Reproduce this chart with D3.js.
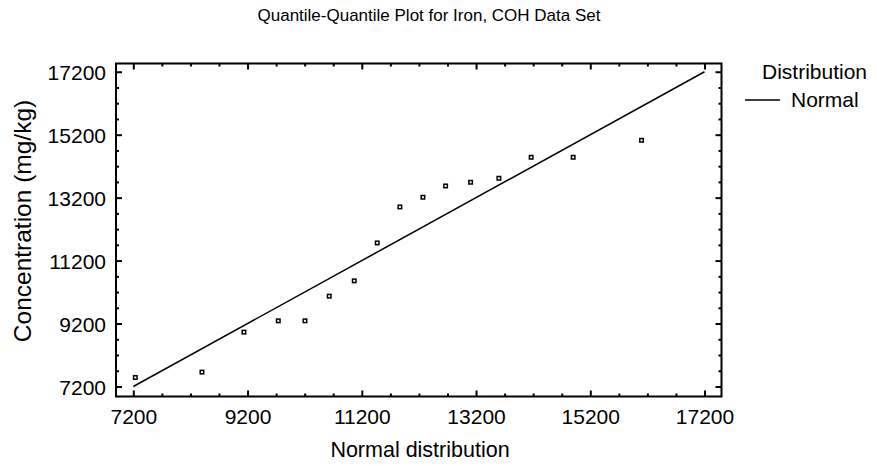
<!DOCTYPE html>
<html><head><meta charset="utf-8">
<script src="https://cdn.jsdelivr.net/npm/d3@7"></script>
<style>body{margin:0;background:#fff}svg{display:block}text{font-family:"Liberation Sans",Arial,sans-serif;fill:#000}</style>
</head><body>
<svg id="c" width="877" height="466"></svg>
<script>
const title = "Quantile-Quantile Plot for Iron, COH Data Set";
const xLabel = "Normal distribution";
const yLabel = "Concentration (mg/kg)";
const legendTitle = "Distribution";
const legendItem = "Normal";
const tickValues = [7200, 9200, 11200, 13200, 15200, 17200];
const normalQuantiles = [7235, 8402, 9137, 9738, 10205, 10630, 11068, 11470, 11867, 12270, 12667, 13105, 13600, 14165, 14900, 16097];
const concentrations = [7486, 7657, 8927, 9286, 9286, 10070, 10556, 11762, 12905, 13213, 13571, 13689, 13816, 14483, 14483, 15022];
const refLine = [7200, 17200];

const svg = d3.select("#c");
const L = 116, R = 721.5, T = 63.5, B = 396.5;
const x = d3.scaleLinear().domain([6897, 17497]).range([L, R]);
const y = d3.scaleLinear().domain([6882, 17462]).range([B, T]);
const minor = d3.range(6700, 17800, 500).filter(v => !tickValues.includes(v));

function ax(gen, tr, ticks, len, labels) {
  const g = svg.append("g").attr("transform", tr)
    .call(gen.tickValues(ticks).tickSizeInner(len).tickSizeOuter(0).tickFormat(labels ? d3.format("d") : ""));
  g.select(".domain").remove();
  g.selectAll("line").attr("stroke", "#000").attr("stroke-width", 2);
  g.selectAll("text").style("font-size", "21px").style("font-family", "Liberation Sans, Arial, sans-serif");
  return g;
}
const xMin = minor.filter(v => x(v) > L && x(v) < R);
const yMin = minor.filter(v => y(v) > T && y(v) < B);
// bottom
let gb = ax(d3.axisBottom(x), `translate(0,${B})`, tickValues, -6, true);
gb.selectAll("text").attr("y", 13);
ax(d3.axisBottom(x), `translate(0,${B})`, xMin, -3, false);
// top
ax(d3.axisTop(x), `translate(0,${T})`, tickValues, -6, false);
ax(d3.axisTop(x), `translate(0,${T})`, xMin, -3, false);
// left
let gl = ax(d3.axisLeft(y), `translate(${L},0)`, tickValues, -6, true);
gl.selectAll("text").attr("x", -10).attr("dy", "0.36em");
ax(d3.axisLeft(y), `translate(${L},0)`, yMin, -3, false);
// right
ax(d3.axisRight(y), `translate(${R},0)`, tickValues, -6, false);
ax(d3.axisRight(y), `translate(${R},0)`, yMin, -3, false);

svg.append("rect").attr("x", L).attr("y", T).attr("width", R - L).attr("height", B - T)
  .attr("fill", "none").attr("stroke", "#000").attr("stroke-width", 2);

svg.append("line").attr("x1", x(refLine[0])).attr("y1", y(refLine[0]))
  .attr("x2", x(refLine[1])).attr("y2", y(refLine[1]))
  .attr("stroke", "#000").attr("stroke-width", 1.5);

svg.selectAll("rect.pt").data(normalQuantiles).enter().append("rect").attr("class", "pt")
  .attr("x", (d, i) => x(d) - 1.75).attr("y", (d, i) => y(concentrations[i]) - 1.75)
  .attr("width", 3.5).attr("height", 3.5).attr("fill", "none").attr("stroke", "#000").attr("stroke-width", 1.5);

svg.append("text").attr("x", 429).attr("y", 21).attr("text-anchor", "middle").style("font-size", "17px").text(title);
svg.append("text").attr("x", 420).attr("y", 457).attr("text-anchor", "middle").style("font-size", "21.5px").text(xLabel);
svg.append("text").attr("transform", "translate(31,221) rotate(-90)").attr("text-anchor", "middle").style("font-size", "24.5px").text(yLabel);

svg.append("text").attr("x", 814.5).attr("y", 79).attr("text-anchor", "middle").style("font-size", "21px").text(legendTitle);
svg.append("line").attr("x1", 745).attr("x2", 780).attr("y1", 100).attr("y2", 100).attr("stroke", "#000").attr("stroke-width", 1.5);
svg.append("text").attr("x", 791).attr("y", 107).style("font-size", "21px").text(legendItem);
</script>
</body></html>
